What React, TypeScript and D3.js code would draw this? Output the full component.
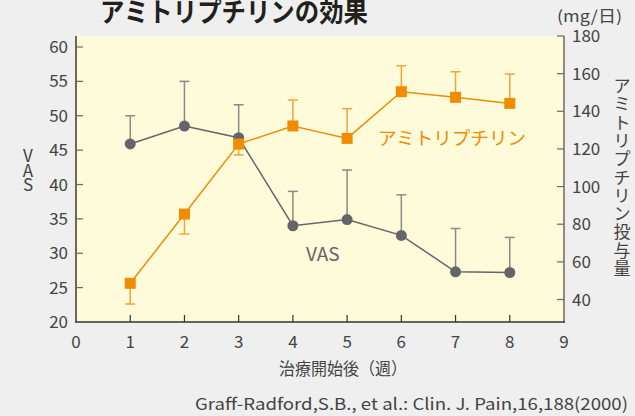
import React from "react";
import * as d3 from "d3";

const weeks = [1, 2, 3, 4, 5, 6, 7, 8];
const vasMean = [45.9, 48.5, 46.8, 34.0, 34.9, 32.6, 27.3, 27.2];
const vasErrTop = [50.0, 55.0, 51.6, 39.0, 42.1, 38.5, 33.6, 32.3];
const amiMean = [48.6, 85.4, 122.6, 132.2, 125.6, 150.4, 147.4, 144.2];
const amiErrEnd = [37.6, 74.8, 116.8, 146.0, 141.4, 164.2, 161.0, 159.8];
const xTicks = [0, 1, 2, 3, 4, 5, 6, 7, 8, 9];
const leftTicks = [20, 25, 30, 35, 40, 45, 50, 55, 60];
const rightTicks = [40, 60, 80, 100, 120, 140, 160, 180];
const title = "アミトリプチリンの効果";
const xTitle = "治療開始後（週）";
const leftTitle = ["V", "A", "S"];
const rightTitle = "アミトリプチリン投与量";
const rightUnit = "(mg/日)";
const amiLabel = "アミトリプチリン";
const vasLabel = "VAS";
const citation = "Graff-Radford,S.B., et al.: Clin. J. Pain,16,188(2000)";

const FONT = "'Noto Sans CJK JP', 'Noto Sans', sans-serif";
const GRAY = "#656468";
const GRAY_ERR = "#8c8a84";
const ORANGE = "#f08c00";
const ORANGE_ERR = "#f5a433";
const AXIS = "#6e675c";
const TEXT = "#444444";

export default function App() {
  const W = 635, H = 416;
  const plotL = 76, plotR = 564, plotT = 36, plotB = 322;
  const x = d3.scaleLinear().domain([0, 9]).range([plotL, plotR]);
  const yL = d3.scaleLinear().domain([20, 60]).range([plotB, 47]);
  const yR = d3.scaleLinear().domain([40, 180]).range([299.5, plotT]);

  const vasLine = d3.line<number>().x((_, i) => x(weeks[i])).y((d) => yL(d));
  const amiLine = d3.line<number>().x((_, i) => x(weeks[i])).y((d) => yR(d));

  const cap = 5;
  const sq = 11;

  return (
    <svg width={W} height={H} style={{ position: "absolute", left: 0, top: 0 }} fontFamily={FONT}>
      <rect x={0} y={0} width={W} height={H} fill="#eeefee" />
      <rect x={plotL} y={plotT} width={plotR - plotL} height={plotB - plotT} fill="#fefbdb" />

      {/* title */}
      <text x={100} y={22} fontSize={27} fontWeight="bold" fill="#231f1c" textLength={268} lengthAdjust="spacingAndGlyphs">{title}</text>
      <text x={557} y={22} fontSize={16} fill={TEXT} textLength={65} lengthAdjust="spacingAndGlyphs">{rightUnit}</text>

      {/* x ticks */}
      {xTicks.map((t) => (
        <g key={"x" + t}>
          {t > 0 && t < 9 && <line x1={x(t)} x2={x(t)} y1={plotB} y2={plotB - 7} stroke="#333" strokeWidth={1.2} />}
          <text x={x(t)} y={348} fontSize={17} textAnchor="middle" fill={TEXT}>{t}</text>
        </g>
      ))}
      {/* left ticks */}
      {leftTicks.map((t) => (
        <g key={"l" + t}>
          {t > 20 && <line x1={plotL} x2={plotL + 7} y1={yL(t)} y2={yL(t)} stroke={AXIS} strokeWidth={1.2} />}
          <text x={68} y={yL(t) + 6} fontSize={17} textAnchor="end" fill={TEXT}>{t}</text>
        </g>
      ))}
      {/* right ticks */}
      {rightTicks.map((t) => (
        <g key={"r" + t}>
          <line x1={plotR} x2={plotR - 7} y1={yR(t)} y2={yR(t)} stroke={AXIS} strokeWidth={1.2} />
          <text x={572} y={yR(t) + 6} fontSize={17} textAnchor="start" fill={TEXT}>{t}</text>
        </g>
      ))}

      {/* axes lines */}
      <line x1={plotL} x2={plotL} y1={plotT} y2={plotB} stroke={AXIS} strokeWidth={2} />
      <line x1={plotR} x2={plotR} y1={plotT} y2={plotB} stroke={AXIS} strokeWidth={1.5} />
      <line x1={plotL - 1} x2={plotR + 1} y1={plotB} y2={plotB} stroke="#333" strokeWidth={1.5} />

      {/* axis titles */}
      <text x={279} y={375} fontSize={17} fill={TEXT} textLength={128} lengthAdjust="spacingAndGlyphs">{xTitle}</text>
      {leftTitle.map((c, i) => (
        <text key={"lt" + i} x={28} y={162 + i * 14.5} fontSize={17} textAnchor="middle" fill={TEXT}>{c}</text>
      ))}
      {Array.from(rightTitle).map((c, i) => (
        <text key={"rt" + i} x={622} y={92 + i * 18.3} fontSize={17} textAnchor="middle" fill={TEXT}>{c}</text>
      ))}

      {/* citation */}
      <text x={195} y={410} fontSize={16.5} fill={TEXT} textLength={433} lengthAdjust="spacingAndGlyphs">{citation}</text>

      {/* VAS series */}
      {weeks.map((w, i) => (
        <g key={"ve" + i} stroke={GRAY_ERR} strokeWidth={1.5}>
          <line x1={x(w)} x2={x(w)} y1={yL(vasMean[i])} y2={yL(vasErrTop[i])} />
          <line x1={x(w) - cap} x2={x(w) + cap} y1={yL(vasErrTop[i])} y2={yL(vasErrTop[i])} />
        </g>
      ))}
      <path d={vasLine(vasMean) || ""} fill="none" stroke={GRAY} strokeWidth={1.5} />
      {weeks.map((w, i) => (
        <circle key={"vc" + i} cx={x(w)} cy={yL(vasMean[i])} r={5.5} fill={GRAY} />
      ))}

      {/* Amitriptyline series */}
      {weeks.map((w, i) => (
        <g key={"ae" + i} stroke={ORANGE_ERR} strokeWidth={1.5}>
          <line x1={x(w)} x2={x(w)} y1={yR(amiMean[i])} y2={yR(amiErrEnd[i])} />
          <line x1={x(w) - cap} x2={x(w) + cap} y1={yR(amiErrEnd[i])} y2={yR(amiErrEnd[i])} />
        </g>
      ))}
      <path d={amiLine(amiMean) || ""} fill="none" stroke={ORANGE} strokeWidth={1.5} />
      {weeks.map((w, i) => (
        <rect key={"as" + i} x={x(w) - sq / 2} y={yR(amiMean[i]) - sq / 2} width={sq} height={sq} fill={ORANGE} />
      ))}

      {/* series labels */}
      <text x={378} y={145} fontSize={18} fill={ORANGE} textLength={148} lengthAdjust="spacingAndGlyphs">{amiLabel}</text>
      <text x={306} y={261} fontSize={19} fill={GRAY}>{vasLabel}</text>
    </svg>
  );
}
